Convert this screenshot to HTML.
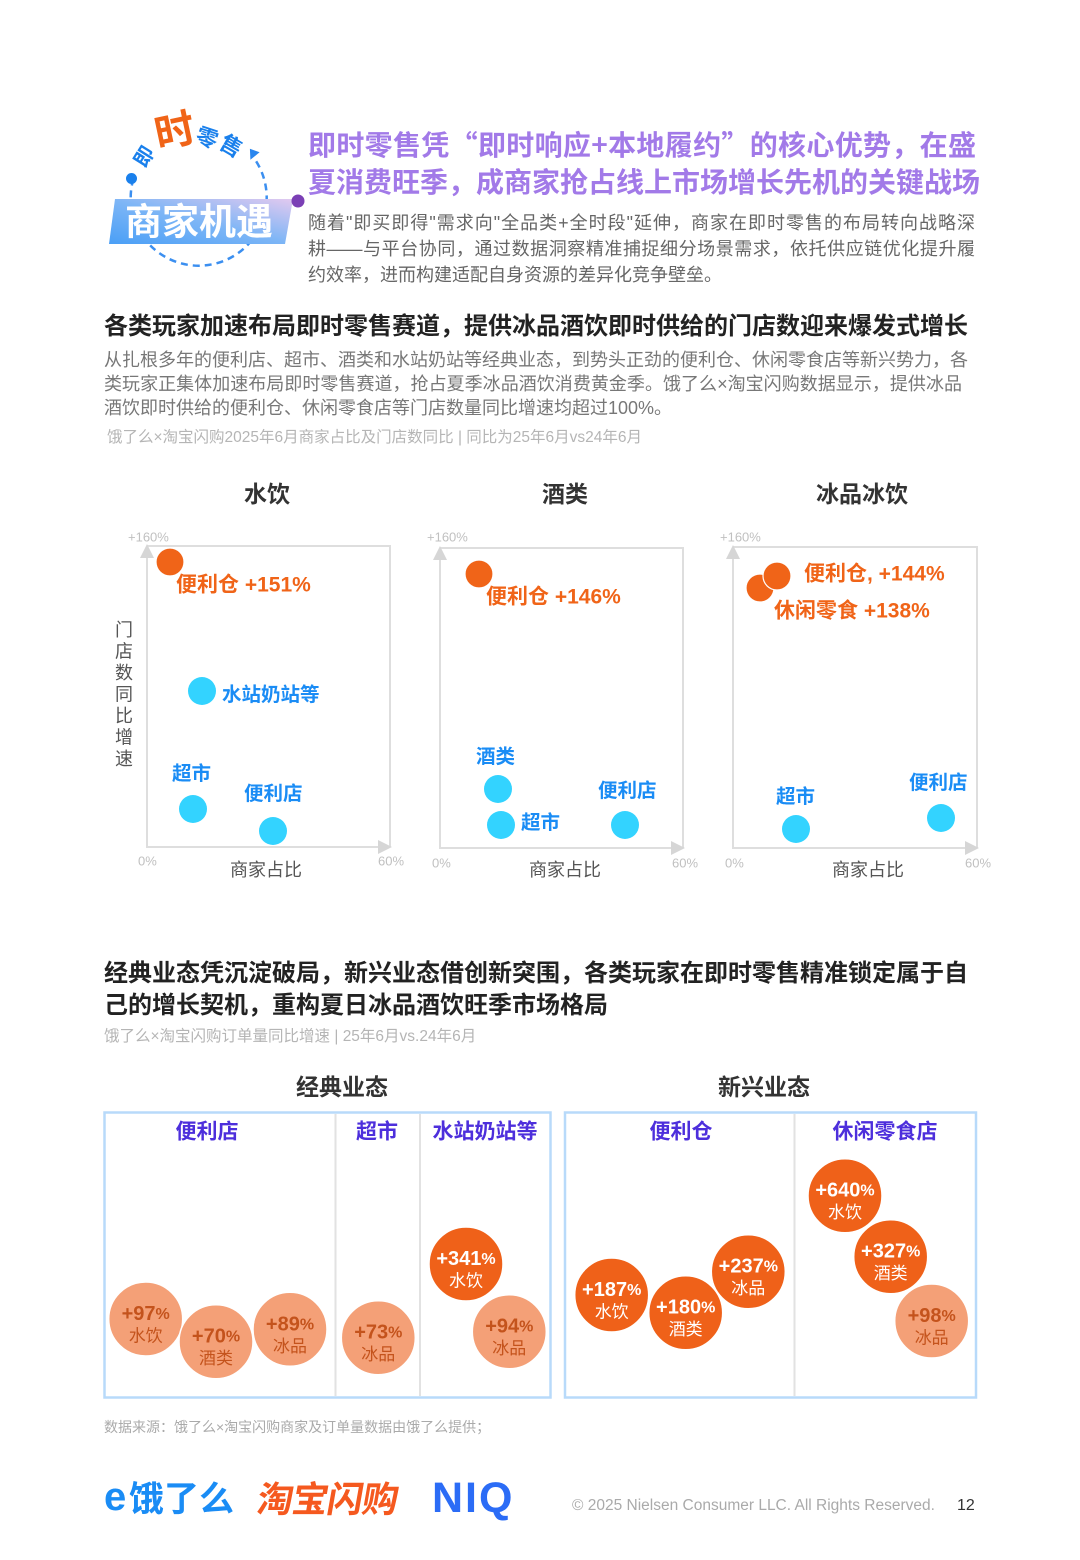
<!DOCTYPE html>
<html><head><meta charset="utf-8">
<style>
*{margin:0;padding:0;box-sizing:border-box}
html,body{width:1080px;height:1560px;background:#fff;overflow:hidden}
body{position:relative;font-family:"Liberation Sans","Noto Sans CJK SC",sans-serif}
.a{position:absolute;white-space:nowrap}
.j{text-align:justify;text-align-last:justify}
svg{position:absolute;left:0;top:0}
svg text{font-family:"Liberation Sans","Noto Sans CJK SC",sans-serif}
</style></head><body>

<svg width="1080" height="1560" viewBox="0 0 1080 1560">
<defs>
<linearGradient id="bn" x1="0" y1="1" x2="1" y2="0">
<stop offset="0" stop-color="#4a9ff6"/><stop offset="0.5" stop-color="#7eb6f6"/><stop offset="1" stop-color="#e2c9ef"/>
</linearGradient>
<linearGradient id="pl" x1="0" y1="0" x2="1" y2="0">
<stop offset="0" stop-color="#7a3db8"/><stop offset="0.5" stop-color="#c5a8e6"/><stop offset="1" stop-color="#ffffff" stop-opacity="0"/>
</linearGradient>
</defs>

<!-- header logo -->
<path d="M133.4,178.7 A68,68 0 1 0 254.4,158.7" fill="none" stroke="#3b8ff0" stroke-width="2.5" stroke-dasharray="7 5"/>
<polygon points="249.9,148.8 259.6,152.2 250.4,159.8" fill="#2a86ee"/>
<circle cx="131.5" cy="178.5" r="5.5" fill="#1a80ec"/>
<text x="145" y="157" font-size="20" font-weight="700" fill="#1a80ec" text-anchor="middle" dominant-baseline="central" transform="rotate(-58 145 157)">即</text>
<text x="175" y="132" font-size="40" font-weight="700" fill="#f06418" text-anchor="middle" dominant-baseline="central" transform="rotate(-12 175 132)">时</text>
<text x="207" y="138" font-size="22" font-weight="700" fill="#1a80ec" text-anchor="middle" dominant-baseline="central" transform="rotate(18 207 138)">零</text>
<text x="231" y="146" font-size="22" font-weight="700" fill="#1a80ec" text-anchor="middle" dominant-baseline="central" transform="rotate(30 231 146)">售</text>
<polygon points="115,199 293,199 285,244 109,244" fill="url(#bn)"/>
<text x="199" y="222" font-size="37" font-weight="700" fill="#fff" text-anchor="middle" dominant-baseline="central">商家机遇</text>

<line x1="298" y1="201" x2="990" y2="201" stroke="url(#pl)" stroke-width="2.5"/>
<circle cx="298" cy="201" r="6.5" fill="#7b3fb5"/>

<!-- chart titles -->
<g font-size="23" font-weight="700" fill="#333" text-anchor="middle">
<text x="267" y="494" dominant-baseline="central">水饮</text>
<text x="565" y="494" dominant-baseline="central">酒类</text>
<text x="862" y="494" dominant-baseline="central">冰品冰饮</text>
</g>

<!-- panel axes -->
<g stroke="#dedede" stroke-width="2" fill="none">
<path d="M147,546 H390 V847"/><path d="M147,556 V847 H380"/>
<path d="M440,548 H683 V848"/><path d="M440,558 V848 H673"/>
<path d="M733,547 H977 V848"/><path d="M733,557 V848 H967"/>
</g>
<g fill="#d6d6d6">
<polygon points="147,544 140,558 154,558"/><polygon points="392,847 378,840 378,854"/>
<polygon points="440,546 433,560 447,560"/><polygon points="685,848 671,841 671,855"/>
<polygon points="733,545 726,559 740,559"/><polygon points="979,848 965,841 965,855"/>
</g>
<g font-size="13" fill="#c0c0c0">
<text x="128" y="537" dominant-baseline="central">+160%</text>
<text x="138" y="861" dominant-baseline="central">0%</text>
<text x="378" y="861" dominant-baseline="central">60%</text>
<text x="427" y="537" dominant-baseline="central">+160%</text>
<text x="432" y="863" dominant-baseline="central">0%</text>
<text x="672" y="863" dominant-baseline="central">60%</text>
<text x="720" y="537" dominant-baseline="central">+160%</text>
<text x="725" y="863" dominant-baseline="central">0%</text>
<text x="965" y="863" dominant-baseline="central">60%</text>
</g>
<g font-size="18" fill="#555" text-anchor="middle">
<text x="266" y="870" dominant-baseline="central">商家占比</text>
<text x="565" y="870" dominant-baseline="central">商家占比</text>
<text x="868" y="870" dominant-baseline="central">商家占比</text>
<text x="124" y="630" dominant-baseline="central">门</text>
<text x="124" y="651.5" dominant-baseline="central">店</text>
<text x="124" y="673" dominant-baseline="central">数</text>
<text x="124" y="694.5" dominant-baseline="central">同</text>
<text x="124" y="716" dominant-baseline="central">比</text>
<text x="124" y="737.5" dominant-baseline="central">增</text>
<text x="124" y="759" dominant-baseline="central">速</text>
</g>

<!-- scatter points -->
<g fill="#33d3ff">
<circle cx="202" cy="691" r="14"/><circle cx="193" cy="809" r="14"/><circle cx="273" cy="831" r="14"/>
<circle cx="498" cy="789" r="14"/><circle cx="501" cy="825" r="14"/><circle cx="625" cy="825" r="14"/>
<circle cx="796" cy="829" r="14"/><circle cx="941" cy="818" r="14"/>
</g>
<g fill="#f06418" stroke="#fff" stroke-width="1.2">
<circle cx="170" cy="562" r="14"/>
<circle cx="479" cy="574" r="14"/>
<circle cx="760" cy="588" r="14"/>
<circle cx="777" cy="576" r="14"/>
</g>
<g font-size="21" font-weight="700" fill="#f06418">
<text x="176" y="585" dominant-baseline="central">便利仓 +151%</text>
<text x="486" y="597" dominant-baseline="central">便利仓 +146%</text>
<text x="804" y="574" dominant-baseline="central">便利仓, +144%</text>
<text x="774" y="611" dominant-baseline="central">休闲零食 +138%</text>
</g>
<g font-size="19.5" font-weight="700" fill="#1a8cf5">
<text x="222" y="695" dominant-baseline="central">水站奶站等</text>
<text x="172" y="774" dominant-baseline="central">超市</text>
<text x="244" y="794" dominant-baseline="central">便利店</text>
<text x="476" y="757" dominant-baseline="central">酒类</text>
<text x="521" y="823" dominant-baseline="central">超市</text>
<text x="598" y="791" dominant-baseline="central">便利店</text>
<text x="776" y="797" dominant-baseline="central">超市</text>
<text x="909" y="783" dominant-baseline="central">便利店</text>
</g>

<!-- section 2 subheads -->
<g font-size="23" font-weight="700" fill="#333" text-anchor="middle">
<text x="342" y="1087" dominant-baseline="central">经典业态</text>
<text x="764" y="1087" dominant-baseline="central">新兴业态</text>
</g>

<!-- boxes -->
<rect x="104.5" y="1112.5" width="446" height="285" fill="none" stroke="#b8dafa" stroke-width="2.5"/>
<rect x="565" y="1112.5" width="411" height="285" fill="none" stroke="#b8dafa" stroke-width="2.5"/>
<g stroke="#e2e2e2" stroke-width="2">
<line x1="335.5" y1="1114" x2="335.5" y2="1396"/>
<line x1="420" y1="1114" x2="420" y2="1396"/>
<line x1="794.5" y1="1114" x2="794.5" y2="1396"/>
</g>
<g font-size="21" font-weight="700" fill="#4d2fdc" text-anchor="middle">
<text x="207" y="1132" dominant-baseline="central">便利店</text>
<text x="377" y="1132" dominant-baseline="central">超市</text>
<text x="485" y="1132" dominant-baseline="central">水站奶站等</text>
<text x="681" y="1132" dominant-baseline="central">便利仓</text>
<text x="885" y="1132" dominant-baseline="central">休闲零食店</text>
</g>

<!-- bubbles -->
<g stroke="#fff" stroke-width="1.5">
<circle cx="145.7" cy="1319" r="37" fill="#f4a077"/>
<circle cx="216" cy="1341.7" r="37" fill="#f4a077"/>
<circle cx="290" cy="1329.3" r="37" fill="#f4a077"/>
<circle cx="378.3" cy="1337.7" r="37" fill="#f4a077"/>
<circle cx="466" cy="1264" r="37" fill="#ef6119"/>
<circle cx="509.3" cy="1331.7" r="37" fill="#f4a077"/>
<circle cx="611.7" cy="1295" r="37" fill="#ef6119"/>
<circle cx="685.7" cy="1312.7" r="37" fill="#ef6119"/>
<circle cx="748.3" cy="1271.7" r="37" fill="#ef6119"/>
<circle cx="845" cy="1195.7" r="37" fill="#ef6119"/>
<circle cx="890.7" cy="1256.7" r="37" fill="#ef6119"/>
<circle cx="931.7" cy="1321" r="37" fill="#f4a077"/>
</g>
<g text-anchor="middle" fill="#c4531c">
<text x="145.7" y="1314" font-size="20" font-weight="700" dominant-baseline="central">+97<tspan font-size="16">%</tspan></text>
<text x="145.7" y="1336" font-size="17" dominant-baseline="central">水饮</text>
<text x="216" y="1336.7" font-size="20" font-weight="700" dominant-baseline="central">+70<tspan font-size="16">%</tspan></text>
<text x="216" y="1358.7" font-size="17" dominant-baseline="central">酒类</text>
<text x="290" y="1324.3" font-size="20" font-weight="700" dominant-baseline="central">+89<tspan font-size="16">%</tspan></text>
<text x="290" y="1346.3" font-size="17" dominant-baseline="central">冰品</text>
<text x="378.3" y="1332.7" font-size="20" font-weight="700" dominant-baseline="central">+73<tspan font-size="16">%</tspan></text>
<text x="378.3" y="1354.7" font-size="17" dominant-baseline="central">冰品</text>
<text x="509.3" y="1326.7" font-size="20" font-weight="700" dominant-baseline="central">+94<tspan font-size="16">%</tspan></text>
<text x="509.3" y="1348.7" font-size="17" dominant-baseline="central">冰品</text>
<text x="931.7" y="1316" font-size="20" font-weight="700" dominant-baseline="central">+98<tspan font-size="16">%</tspan></text>
<text x="931.7" y="1338" font-size="17" dominant-baseline="central">冰品</text>
</g>
<g text-anchor="middle" fill="#fff">
<text x="466" y="1259" font-size="20" font-weight="700" dominant-baseline="central">+341<tspan font-size="16">%</tspan></text>
<text x="466" y="1281" font-size="17" dominant-baseline="central">水饮</text>
<text x="611.7" y="1290" font-size="20" font-weight="700" dominant-baseline="central">+187<tspan font-size="16">%</tspan></text>
<text x="611.7" y="1312" font-size="17" dominant-baseline="central">水饮</text>
<text x="685.7" y="1307.7" font-size="20" font-weight="700" dominant-baseline="central">+180<tspan font-size="16">%</tspan></text>
<text x="685.7" y="1329.7" font-size="17" dominant-baseline="central">酒类</text>
<text x="748.3" y="1266.7" font-size="20" font-weight="700" dominant-baseline="central">+237<tspan font-size="16">%</tspan></text>
<text x="748.3" y="1288.7" font-size="17" dominant-baseline="central">冰品</text>
<text x="845" y="1190.7" font-size="20" font-weight="700" dominant-baseline="central">+640<tspan font-size="16">%</tspan></text>
<text x="845" y="1212.7" font-size="17" dominant-baseline="central">水饮</text>
<text x="890.7" y="1251.7" font-size="20" font-weight="700" dominant-baseline="central">+327<tspan font-size="16">%</tspan></text>
<text x="890.7" y="1273.7" font-size="17" dominant-baseline="central">酒类</text>
</g>
</svg>

<!-- header purple title -->
<div class="a j" style="left:308px;top:125px;width:668px;font-family:'Noto Sans CJK SC','Liberation Sans',sans-serif;font-size:28px;line-height:38px;font-weight:700;color:#a27ae8">即时零售凭“即时响应+本地履约”的核心优势，在盛</div>
<div class="a j" style="left:308px;top:162px;width:672px;font-family:'Noto Sans CJK SC','Liberation Sans',sans-serif;font-size:28px;line-height:38px;font-weight:700;color:#a27ae8">夏消费旺季，成商家抢占线上市场增长先机的关键战场</div>

<div class="a j" style="left:308px;top:210px;width:667px;font-size:18px;line-height:26px;color:#666">随着"即买即得"需求向"全品类+全时段"延伸，商家在即时零售的布局转向战略深</div>
<div class="a j" style="left:308px;top:236px;width:667px;font-size:18px;line-height:26px;color:#666">耕——与平台协同，通过数据洞察精准捕捉细分场景需求，依托供应链优化提升履</div>
<div class="a" style="left:308px;top:262px;font-size:18px;line-height:26px;color:#666">约效率，进而构建适配自身资源的差异化竞争壁垒。</div>

<!-- section 1 -->
<div class="a j" style="left:104px;top:312px;width:864px;font-size:24px;line-height:30px;font-weight:700;color:#222">各类玩家加速布局即时零售赛道，提供冰品酒饮即时供给的门店数迎来爆发式增长</div>
<div class="a j" style="left:104px;top:348px;width:864px;font-size:18px;line-height:24px;color:#777">从扎根多年的便利店、超市、酒类和水站奶站等经典业态，到势头正劲的便利仓、休闲零食店等新兴势力，各</div>
<div class="a j" style="left:104px;top:372px;width:858px;font-size:18px;line-height:24px;color:#777">类玩家正集体加速布局即时零售赛道，抢占夏季冰品酒饮消费黄金季。饿了么×淘宝闪购数据显示，提供冰品</div>
<div class="a" style="left:104px;top:396px;font-size:18px;line-height:24px;color:#777">酒饮即时供给的便利仓、休闲零食店等门店数量同比增速均超过100%。</div>
<div class="a" style="left:107px;top:428px;font-size:15.5px;line-height:20px;color:#b5b5b5">饿了么×淘宝闪购2025年6月商家占比及门店数同比 | 同比为25年6月vs24年6月</div>

<!-- section 2 -->
<div class="a j" style="left:104px;top:959px;width:863px;font-size:24px;line-height:30px;font-weight:700;color:#222">经典业态凭沉淀破局，新兴业态借创新突围，各类玩家在即时零售精准锁定属于自</div>
<div class="a" style="left:104px;top:991px;font-size:24px;line-height:30px;font-weight:700;color:#222">己的增长契机，重构夏日冰品酒饮旺季市场格局</div>
<div class="a" style="left:104px;top:1027px;font-size:15.5px;line-height:20px;color:#b5b5b5">饿了么×淘宝闪购订单量同比增速 | 25年6月vs.24年6月</div>

<!-- footer -->
<div class="a" style="left:104px;top:1418px;font-size:14px;line-height:18px;color:#aaa">数据来源：饿了么×淘宝闪购商家及订单量数据由饿了么提供；</div>

<div class="a" style="left:104px;top:1474px;font-size:40px;line-height:46px;font-weight:700;color:#1a8cf5">e</div>
<div class="a" style="left:129px;top:1476px;font-family:'Noto Sans CJK SC',sans-serif;font-size:35px;line-height:42px;font-weight:700;color:#1a8cf5">饿了么</div>
<div class="a" style="left:258px;top:1475px;font-family:'Noto Sans CJK SC',sans-serif;font-size:36px;line-height:44px;font-weight:700;color:#f5591f;transform:skewX(-10deg);letter-spacing:-1px">淘宝闪购</div>
<div class="a" style="left:432px;top:1474px;font-size:43px;line-height:48px;font-weight:700;color:#2b6cf6;letter-spacing:2px">NIQ</div>

<div class="a" style="left:572px;top:1497px;font-size:15.5px;line-height:18px;color:#aaa">© 2025 Nielsen Consumer LLC. All Rights Reserved.</div>
<div class="a" style="left:957px;top:1497px;font-size:16px;line-height:18px;color:#333">12</div>

</body></html>
